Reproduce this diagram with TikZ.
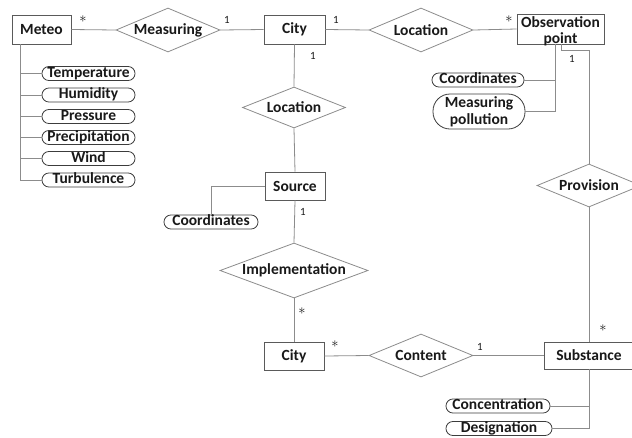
\documentclass[tikz,border=0pt]{standalone}
\usepackage{fontspec}
\setmainfont{Carlito}
\usetikzlibrary{shapes.geometric}
\definecolor{linegray}{RGB}{140,140,140}
\definecolor{boxgray}{RGB}{90,90,90}
\definecolor{pillgray}{RGB}{60,60,60}
\definecolor{txt}{RGB}{25,25,25}
\tikzset{
  ent/.style={draw=boxgray, line width=0.8pt, fill=white, inner sep=0pt,
    minimum width=61pt, minimum height=29pt, text=txt,
    font=\fontsize{15.5}{15.5}\selectfont\bfseries},
  rel/.style={draw=linegray, line width=0.8pt, fill=white, diamond, inner sep=0pt,
    shape aspect=2.5, minimum width=104pt, minimum height=44pt, text=txt,
    font=\fontsize{15.5}{15.5}\selectfont\bfseries},
  pill/.style={draw=pillgray, line width=0.8pt, fill=white, inner sep=0pt,
    rounded corners=6.9pt, minimum width=93pt, minimum height=14pt,
    text height=9.8pt, text depth=2.6pt, text=txt,
    font=\fontsize{15.5}{15.5}\selectfont\bfseries},
  conn/.style={draw=linegray, line width=0.8pt},
  mult/.style={text=txt, inner sep=0pt, font=\fontsize{11}{11}\selectfont},
  star/.style={text=txt, inner sep=0pt, font=\fontsize{15}{15}\selectfont}
}
\begin{document}
\begin{tikzpicture}[x=1pt,y=-1pt]
\clip (0,0) rectangle (632,437);
\path[use as bounding box] (0,0) rectangle (632,437);
\fill[white] (0,0) rectangle (632,437);

\coordinate (meteoline) at (20,44);
\coordinate (obsline) at (555,44);
\coordinate (provtop) at (561,44);
\coordinate (provbend) at (561,50);
\coordinate (provbend2) at (589,50);

% entities
\node[ent, minimum width=59pt] (meteo) at (41.5,29.5) {Meteo};
\node[ent] (city1) at (294.5,29.5) {City};
\node[ent, minimum width=87pt, minimum height=30pt] (obs) at (560.5,29) {};
\node[text=txt, inner sep=0pt, align=center,
  font=\fontsize{15.5}{16}\selectfont\bfseries] (obstext) at (560.5,31) {Observation\\point};
\node[ent, minimum width=60pt, minimum height=28pt] (source) at (295,186) {Source};
\node[ent, minimum width=60pt, minimum height=28pt] (city2) at (294,356) {City};
\node[ent, minimum width=90pt, minimum height=27pt] (subst) at (589,355.5) {Substance};

% relationships
\node[rel] (measuring) at (168,30) {Measuring};
\node[rel] (loc1) at (421,30) {Location};
\node[rel, minimum width=103pt, minimum height=41pt] (loc2) at (294,107.5) {Location};
\node[rel, minimum width=148pt, minimum height=55pt] (impl) at (294,270.5) {Implementation};
\node[rel, minimum width=104pt, minimum height=43pt] (content) at (421,355.5) {Content};
\node[rel, minimum width=104pt, minimum height=43pt] (prov) at (589,185.5) {Provision};

% attributes
\node[pill] (temp) at (88.5,73.5) {Temperature};
\node[pill] (hum) at (88.5,95) {Humidity};
\node[pill] (pres) at (88.5,116.5) {Pressure};
\node[pill] (prec) at (88.5,137.5) {Precipitation};
\node[pill] (wind) at (88.5,158.5) {Wind};
\node[pill] (turb) at (88.5,180) {Turbulence};
\node[pill, minimum width=94pt] (scoord) at (211,222) {Coordinates};
\node[pill, minimum width=92pt] (ocoord) at (478,80) {Coordinates};
\node[pill, minimum width=92pt, minimum height=35pt, rounded corners=17pt,
  align=center, text height=, text depth=,
  font=\fontsize{15.5}{17}\selectfont\bfseries] (mpoll) at (479,111.5) {Measuring\\pollution};
\node[pill, minimum width=104pt] (conc) at (498,406) {Concentration};
\node[pill, minimum width=106pt] (desig) at (499,428.5) {Designation};

% main connectors
\draw[conn] (meteo.east) -- (measuring.west);
\draw[conn] (measuring.east) -- (city1.west);
\draw[conn] (city1.east) -- (loc1.west);
\draw[conn] (loc1.east) -- (obs.west);
\draw[conn] (city1.south) -- (loc2.north);
\draw[conn] (loc2.south) -- (source.north);
\draw[conn] (source.south) -- (impl.north);
\draw[conn] (impl.south) -- (city2.north);
\draw[conn] (city2.east) -- (content.west);
\draw[conn] (content.east) -- (subst.west);
\draw[conn] (provtop) -- (provbend) -- (provbend2) -- (prov.north);
\draw[conn] (prov.south) -- (subst.north);

% attribute connectors
\draw[conn] (meteoline) |- (turb.west);
\foreach \a in {temp,hum,pres,prec,wind}{
  \draw[conn] (meteoline |- \a.west) -- (\a.west);
}
\draw[conn] (source.west) -| (scoord.north);
\draw[conn] (obsline) |- (mpoll.east);
\draw[conn] (obsline |- ocoord.east) -- (ocoord.east);
\draw[conn] (subst.south) |- (desig.east);
\draw[conn] (subst.south |- conc.east) -- (conc.east);

% multiplicities
\node[star] (m1) at (83,19) {$\ast$};
\node[mult] (m2) at (227,20) {1};
\node[mult] (m3) at (336,20) {1};
\node[star] (m4) at (509,19) {$\ast$};
\node[mult] (m5) at (313,56) {1};
\node[mult] (m6) at (572,59) {1};
\node[mult] (m7) at (303,212) {1};
\node[star] (m8) at (302,311) {$\ast$};
\node[star] (m9) at (335,344) {$\ast$};
\node[mult] (m10) at (480,347) {1};
\node[star] (m11) at (603,328) {$\ast$};
\end{tikzpicture}
\end{document}
